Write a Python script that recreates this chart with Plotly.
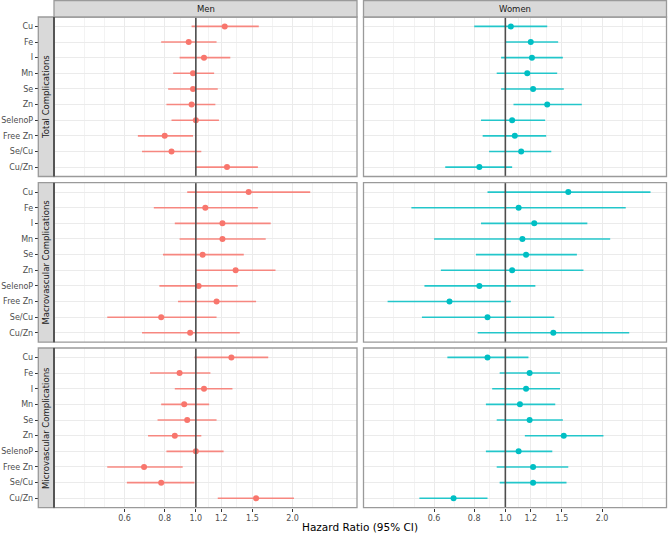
import plotly.graph_objects as go

W, H = 669, 533

categories = ["Cu", "Fe", "I", "Mn", "Se", "Zn", "SelenoP", "Free Zn", "Se/Cu", "Cu/Zn"]
outcomes = ["Total Complications", "Macrovascular Complications", "Microvascular Complications"]
sexes = ["Men", "Women"]

# Men
men_total_hr = [1.23, 0.95, 1.06, 0.98, 0.98, 0.97, 1.00, 0.80, 0.84, 1.25]
men_total_lo = [0.97, 0.78, 0.89, 0.85, 0.82, 0.81, 0.84, 0.66, 0.68, 1.00]
men_total_hi = [1.57, 1.16, 1.28, 1.14, 1.17, 1.15, 1.18, 0.98, 1.04, 1.56]

men_macro_hr = [1.46, 1.07, 1.21, 1.21, 1.05, 1.33, 1.02, 1.16, 0.78, 0.96]
men_macro_lo = [0.94, 0.74, 0.86, 0.89, 0.79, 1.00, 0.77, 0.88, 0.53, 0.68]
men_macro_hi = [2.27, 1.56, 1.71, 1.65, 1.41, 1.77, 1.35, 1.54, 1.16, 1.37]

men_micro_hr = [1.29, 0.89, 1.06, 0.92, 0.94, 0.86, 1.00, 0.69, 0.78, 1.54]
men_micro_lo = [0.99, 0.72, 0.86, 0.78, 0.76, 0.71, 0.81, 0.53, 0.61, 1.17]
men_micro_hi = [1.68, 1.11, 1.30, 1.10, 1.16, 1.04, 1.22, 0.91, 0.99, 2.02]

# Women
women_total_hr = [1.04, 1.20, 1.21, 1.17, 1.22, 1.35, 1.05, 1.07, 1.12, 0.83]
women_total_lo = [0.80, 1.00, 0.97, 0.94, 0.97, 1.06, 0.84, 0.85, 0.89, 0.65]
women_total_hi = [1.35, 1.46, 1.51, 1.45, 1.52, 1.73, 1.33, 1.34, 1.39, 1.05]

women_macro_hr = [1.57, 1.10, 1.23, 1.13, 1.16, 1.05, 0.83, 0.67, 0.88, 1.41]
women_macro_lo = [0.88, 0.51, 0.84, 0.60, 0.81, 0.63, 0.56, 0.43, 0.55, 0.82]
women_macro_hi = [2.83, 2.37, 1.80, 2.12, 1.67, 1.75, 1.24, 1.04, 1.42, 2.43]

women_micro_hr = [0.88, 1.19, 1.16, 1.11, 1.19, 1.52, 1.10, 1.22, 1.22, 0.69]
women_micro_lo = [0.66, 0.96, 0.91, 0.87, 0.94, 1.15, 0.87, 0.94, 0.96, 0.54]
women_micro_hi = [1.18, 1.48, 1.48, 1.43, 1.51, 2.02, 1.40, 1.57, 1.55, 0.88]

x_ticks = [0.6, 0.8, 1.0, 1.2, 1.5, 2.0]
x_tick_labels = ["0.6", "0.8", "1.0", "1.2", "1.5", "2.0"]
x_minor = [0.45, 0.5196, 0.6928, 0.8944, 1.0954, 1.3416, 1.7321, 2.3094, 2.6667]
x_range_log = [-0.4415, 0.5016]

colors = {"Men": "#F8766D", "Women": "#00BFC4"}
line_colors = {"Men": "rgba(248,118,109,0.85)", "Women": "rgba(0,191,196,0.85)"}

panels = {
    ("Men", 0): (men_total_hr, men_total_lo, men_total_hi),
    ("Men", 1): (men_macro_hr, men_macro_lo, men_macro_hi),
    ("Men", 2): (men_micro_hr, men_micro_lo, men_micro_hi),
    ("Women", 0): (women_total_hr, women_total_lo, women_total_hi),
    ("Women", 1): (women_macro_hr, women_macro_lo, women_macro_hi),
    ("Women", 2): (women_micro_hr, women_micro_lo, women_micro_hi),
}

# layout geometry in pixels
col_px = [(54.0, 357.0), (363.5, 666.5)]
row_px = [(17.0, 176.5), (182.7, 342.2), (348.0, 507.7)]
strip_left = 38.3

def px_x(p):
    return p / W

def px_y(p):
    return 1 - p / H

FONT = "DejaVu Sans"
fig = go.Figure()
layout = dict(
    width=W, height=H, margin=dict(l=0, r=0, t=0, b=0),
    paper_bgcolor="white", plot_bgcolor="white", showlegend=False,
    font=dict(family=FONT, size=8, color="#4D4D4D"),
)
shapes = []
annotations = []

for r in range(3):
    for c, sex in enumerate(sexes):
        k = r * 2 + c + 1
        xn = "x" if k == 1 else f"x{k}"
        yn = "y" if k == 1 else f"y{k}"
        xa = "xaxis" if k == 1 else f"xaxis{k}"
        ya = "yaxis" if k == 1 else f"yaxis{k}"
        hr, lo, hi = panels[(sex, r)]
        segx, segy = [], []
        for cat, a, b in zip(categories, lo, hi):
            segx += [a, b, None]
            segy += [cat, cat, None]
        fig.add_trace(go.Scatter(x=segx, y=segy, mode="lines", xaxis=xn, yaxis=yn,
                                 line=dict(color=line_colors[sex], width=1.6),
                                 hoverinfo="skip"))
        fig.add_trace(go.Scatter(x=hr, y=categories, mode="markers", xaxis=xn, yaxis=yn,
                                 marker=dict(color=colors[sex], size=6)))
        bottom = (r == 2)
        layout[xa] = dict(
            domain=[px_x(col_px[c][0]), px_x(col_px[c][1])],
            anchor=yn, type="log", range=x_range_log,
            tickmode="array", tickvals=x_ticks, ticktext=x_tick_labels,
            showticklabels=bottom, ticks="outside" if bottom else "",
            ticklen=3, tickcolor="#333333", tickwidth=1,
            tickfont=dict(size=8, color="#4D4D4D", family=FONT),
            showgrid=True, gridcolor="#EBEBEB", gridwidth=1,
            minor=dict(tickmode="array", tickvals=x_minor, showgrid=True,
                       gridcolor="#F3F3F3", gridwidth=1, ticks=""),
            zeroline=False, showline=False,
        )
        ydict = dict(
            domain=[px_y(row_px[r][1]), px_y(row_px[r][0])],
            type="category", categoryorder="array", categoryarray=categories,
            range=[9.6, -0.6], showgrid=True, gridcolor="#EBEBEB", gridwidth=1,
            zeroline=False, showline=False,
        )
        if c == 0:
            ydict.update(anchor="free", position=px_x(strip_left), side="left",
                         ticks="outside", ticklen=3.5, tickcolor="#333333", tickwidth=1,
                         showticklabels=True,
                         tickfont=dict(size=8, color="#4D4D4D", family=FONT))
        else:
            ydict.update(anchor=xn, showticklabels=False, ticks="")
        layout[ya] = ydict

        # reference line at HR = 1
        shapes.append(dict(type="line", xref=xn, yref=f"{yn} domain", x0=1, x1=1, y0=0, y1=1,
                           line=dict(color="#4D4D4D", width=1.6), layer="above"))
        # panel border
        shapes.append(dict(type="rect", xref=f"{xn} domain", yref=f"{yn} domain",
                           x0=0, x1=1, y0=0, y1=1, line=dict(color="#9A9A9A", width=1.3),
                           fillcolor="rgba(0,0,0,0)", layer="above"))

# column strips
for c, sex in enumerate(sexes):
    x0, x1 = col_px[c]
    shapes.append(dict(type="rect", xref="paper", yref="paper",
                       x0=px_x(x0), x1=px_x(x1), y0=px_y(17.0), y1=px_y(0.5),
                       fillcolor="#D9D9D9", line=dict(color="#9A9A9A", width=1.3)))
    annotations.append(dict(text=sex, xref="paper", yref="paper",
                            x=px_x((x0 + x1) / 2), y=px_y(8.8), showarrow=False,
                            xanchor="center", yanchor="middle",
                            font=dict(size=8.5, color="#1A1A1A", family=FONT)))

# row strips
for r, name in enumerate(outcomes):
    y0, y1 = row_px[r]
    shapes.append(dict(type="rect", xref="paper", yref="paper",
                       x0=px_x(strip_left), x1=px_x(54.0), y0=px_y(y1), y1=px_y(y0),
                       fillcolor="#D9D9D9", line=dict(color="#9A9A9A", width=1.3)))
    shapes.append(dict(type="line", xref="paper", yref="paper",
                       x0=px_x(54.0), x1=px_x(54.0), y0=px_y(y1), y1=px_y(y0),
                       line=dict(color="#555555", width=2)))
    annotations.append(dict(text=name, xref="paper", yref="paper",
                            x=px_x((strip_left + 54.0) / 2), y=px_y((y0 + y1) / 2),
                            textangle=-90, showarrow=False, xanchor="center", yanchor="middle",
                            font=dict(size=8.5, color="#1A1A1A", family=FONT)))

annotations.append(dict(text="Hazard Ratio (95% CI)", xref="paper", yref="paper",
                        x=px_x(360.0), y=px_y(526.5), showarrow=False,
                        xanchor="center", yanchor="middle",
                        font=dict(size=10.5, color="#000000", family=FONT)))

layout["shapes"] = shapes
layout["annotations"] = annotations
fig.update_layout(**layout)
fig.write_html(
    "out.html",
    config={"displayModeBar": False},
    post_script="document.body.style.margin='0';document.body.style.padding='0';"
                "document.body.style.overflow='hidden';",
)
